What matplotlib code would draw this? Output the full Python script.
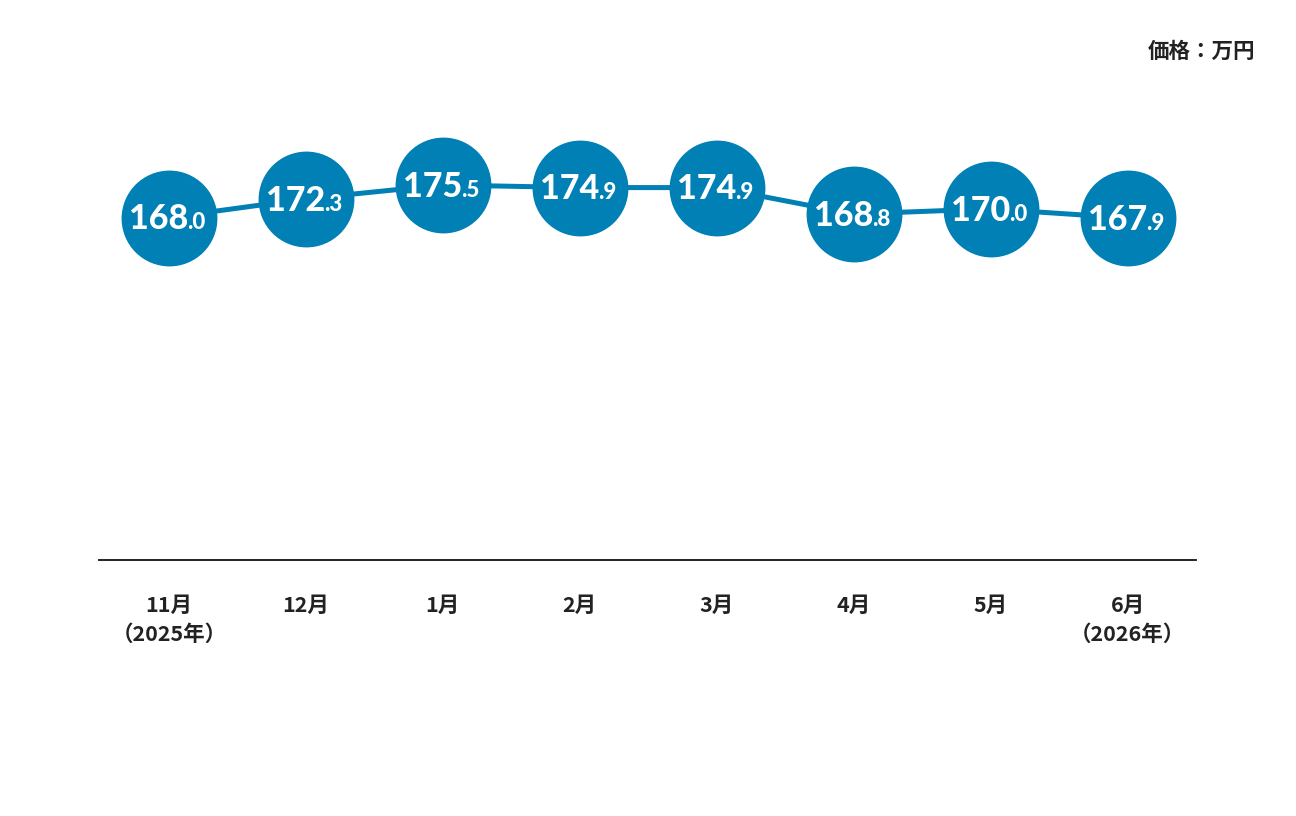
import numpy as np
import matplotlib
matplotlib.use("Agg")
import matplotlib.pyplot as plt

# data
months = ["11月\n（2025年）", "12月", "1月", "2月", "3月", "4月", "5月", "6月\n（2026年）"]
prices = [168.0, 172.3, 175.5, 174.9, 174.9, 168.8, 170.0, 167.9]
unit_label = "価格：万円"

blue = "#0080b4"
dark = "#222222"

plt.rcParams['font.family'] = ['Noto Sans CJK JP', 'DejaVu Sans']

fig = plt.figure(figsize=(12.96, 8.16), dpi=100)
W, H = 1296, 816
# axes box in pixels: x 99..1196, y 40..560 (from top)
ax = fig.add_axes([99 / W, (H - 560) / H, (1196 - 99) / W, (560 - 40) / H])

x = np.arange(len(prices))
ax.plot(x, prices, color=blue, linewidth=3.6, zorder=1, solid_capstyle="butt")
ax.plot(x, prices, linestyle="none", marker="o", markersize=69,
        markerfacecolor=blue, markeredgewidth=0, zorder=2)

for xi, p in zip(x, prices):
    whole, dec = f"{p:.1f}".split(".")
    ax.annotate(whole, (xi, p), xytext=(14, -8.5), textcoords="offset points",
                ha="right", va="baseline", color="white", fontsize=24.5,
                fontweight=900, family="Lato", zorder=3)
    ax.annotate("." + dec, (xi, p), xytext=(13.5, -8.5), textcoords="offset points",
                ha="left", va="baseline", color="white", fontsize=16,
                fontweight=900, family="Lato", zorder=3)

ax.set_xlim(-0.51, 7.5)
ax.set_ylim(89.1, 208.9)

ax.set_xticks(x)
ax.set_xticklabels(months, fontsize=15.5, fontweight="bold", color=dark,
                   linespacing=1.45)
ax.tick_params(axis="x", length=0, pad=25)
ax.set_yticks([])

for s in ["top", "left", "right"]:
    ax.spines[s].set_visible(False)
ax.spines["bottom"].set_color("#111111")
ax.spines["bottom"].set_linewidth(1.3)

fig.text(1255 / W, 1 - 51 / H, unit_label, ha="right", va="center",
         fontsize=15.5, fontweight="bold", color=dark)

fig.savefig("out.png", dpi=100, facecolor="white")
